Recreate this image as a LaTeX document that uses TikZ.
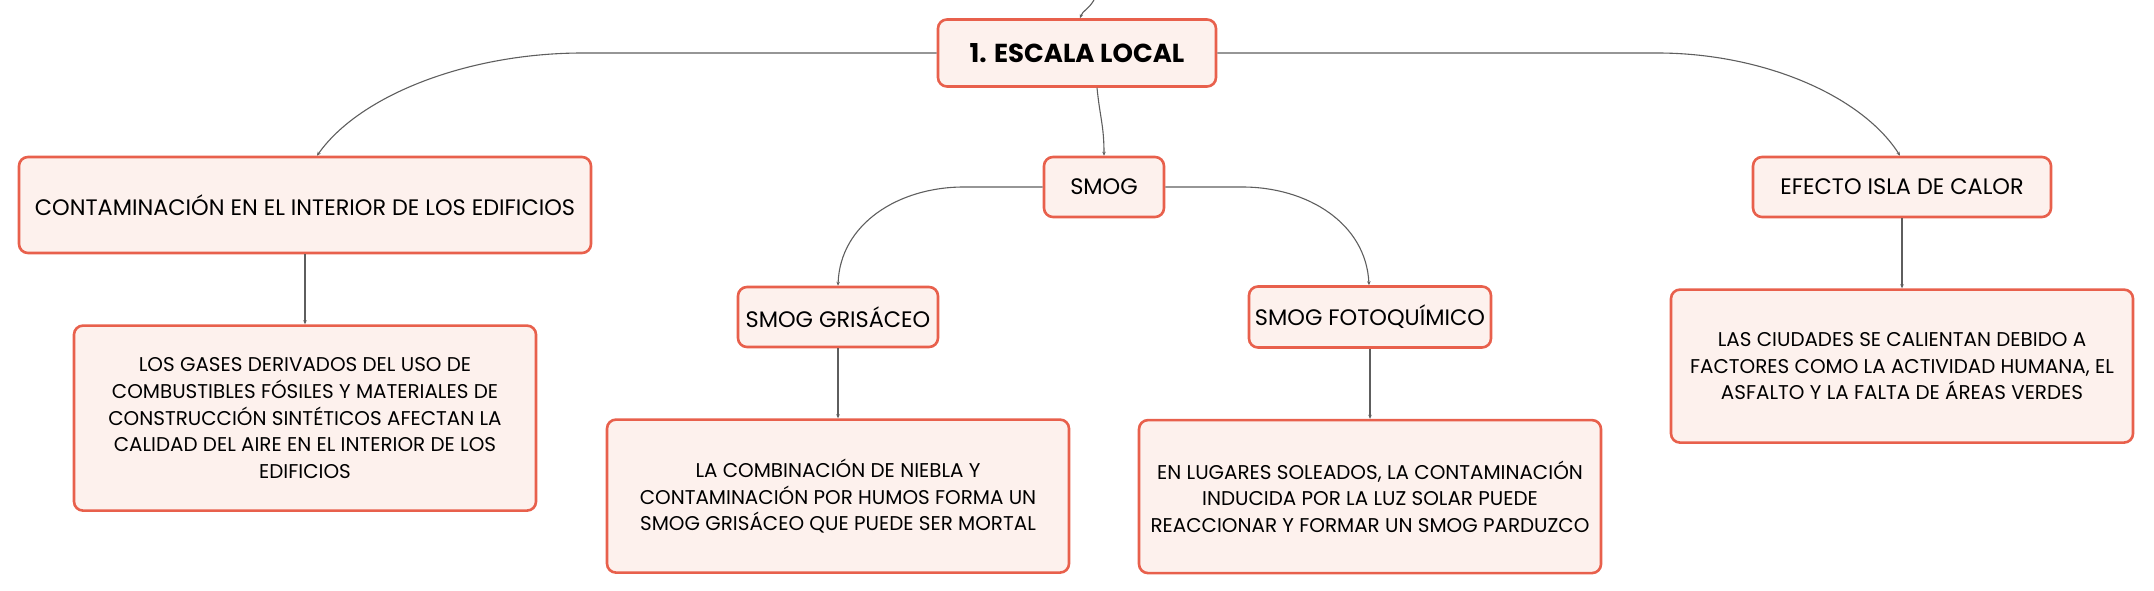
\documentclass[tikz,border=0pt]{standalone}
\usepackage{fontspec}
\setmainfont{Poppins}
\usepackage{xcolor}
\usetikzlibrary{arrows.meta,positioning}
\definecolor{boxline}{HTML}{E8604C}
\definecolor{boxfill}{HTML}{FDF1ED}
\definecolor{wire}{HTML}{5E5E5E}

\begin{document}
\begin{tikzpicture}[->,>={Stealth[length=4pt,width=3.5pt]},x=1pt,y=-1pt,
                    node distance=70pt,
                    topic/.style={draw=boxline,fill=boxfill,line width=2.6pt,
                      rounded corners=9pt,inner sep=0pt,align=center,
                      font=\fontsize{22.4}{28}\selectfont},
                    note/.style={topic,minimum width=462pt,minimum height=153pt,
                      font=\fontsize{19.9}{26.7}\selectfont},
                    link/.style={draw=wire,line width=1.1pt}]
\useasboundingbox (0,0) rectangle (2154,591);

\node[topic,minimum width=278pt,minimum height=67pt,
      font=\fontsize{26}{30}\selectfont\bfseries] (ROOT) at(1077,53) {1. ESCALA LOCAL};
\node[topic,minimum width=572pt,minimum height=96pt] (CONT) at(305,205)
      {CONTAMINACIÓN EN EL INTERIOR DE LOS EDIFICIOS};
\node[topic,minimum width=120pt,minimum height=60pt] (SMOG) at(1104,187) {SMOG};
\node[topic,minimum width=200pt,minimum height=60pt] (GRIS) at(838,317) {SMOG GRISÁCEO};
\node[topic,minimum width=242pt,minimum height=61pt] (FOTO) at(1370,317) {SMOG FOTOQUÍMICO};
\node[topic,minimum width=298pt,minimum height=60pt] (ISLA) at(1902,187) {EFECTO ISLA DE CALOR};

\node[note,minimum height=185pt] (T1) [below=of CONT]
      {LOS GASES DERIVADOS DEL USO DE\\ COMBUSTIBLES FÓSILES Y MATERIALES DE\\
       CONSTRUCCIÓN SINTÉTICOS AFECTAN LA\\ CALIDAD DEL AIRE EN EL INTERIOR DE LOS\\ EDIFICIOS};
\node[note] (T2) [below=of GRIS]
      {LA COMBINACIÓN DE NIEBLA Y\\ CONTAMINACIÓN POR HUMOS FORMA UN\\ SMOG GRISÁCEO QUE PUEDE SER MORTAL};
\node[note] (T3) [below=of FOTO]
      {EN LUGARES SOLEADOS, LA CONTAMINACIÓN\\ INDUCIDA POR LA LUZ SOLAR PUEDE\\ REACCIONAR Y FORMAR UN SMOG PARDUZCO};
\node[note] (T4) [below=of ISLA]
      {LAS CIUDADES SE CALIENTAN DEBIDO A\\ FACTORES COMO LA ACTIVIDAD HUMANA, EL\\ ASFALTO Y LA FALTA DE ÁREAS VERDES};

\coordinate (UP) at(1094,0);
\draw[link] (UP) .. controls +(-6,10) and +(3,-8) .. ([xshift=3pt]ROOT.north);
\draw[link] ([xshift=20pt]ROOT.south) .. controls +(3,30) and +(0,-30) .. (SMOG.north);

% branches of the root
\draw[link] (ROOT.west) -- ++(-354,0)
      .. controls +(-114,0) and +(43,-61) .. ([xshift=12pt]CONT.north);
\draw[link] (ROOT.east) -- ++(440,0)
      .. controls +(104,0) and +(-39,-61) .. ([xshift=-2pt]ISLA.north);

% branches of smog
\draw[link] (SMOG.west) -- ++(-79,0)
      .. controls +(-65,0) and +(2,-62) .. (GRIS.north);
\draw[link] (SMOG.east) -- ++(77,0)
      .. controls +(65,0) and +(-3,-62) .. ([xshift=-1pt]FOTO.north);

\path (CONT) edge[link] (T1)
      (GRIS) edge[link] (T2)
      (FOTO) edge[link] (T3)
      (ISLA) edge[link] (T4);
\end{tikzpicture}
\end{document}
